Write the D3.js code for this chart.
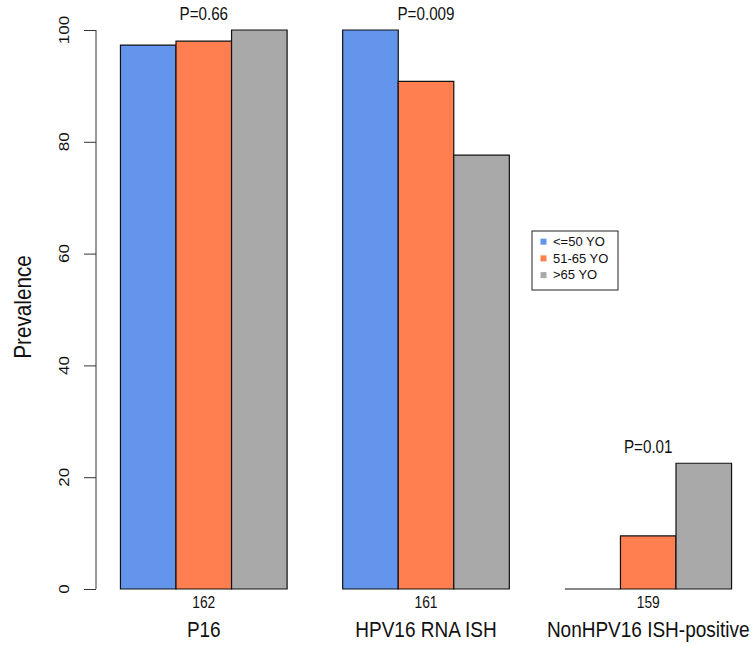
<!DOCTYPE html>
<html><head><meta charset="utf-8">
<script src="https://cdn.jsdelivr.net/npm/d3@7"></script>
<style>body{margin:0;background:#fff}svg{display:block;font-family:"Liberation Sans",Arial,sans-serif}</style>
</head><body><svg id="c" width="753" height="647"></svg>
<script>
const categories = ["P16", "HPV16 RNA ISH", "NonHPV16 ISH-positive"];
const counts = ["162", "161", "159"];
const pValues = ["P=0.66", "P=0.009", "P=0.01"];
const groups = ["<=50 YO", "51-65 YO", ">65 YO"];
const colors = ["#6495ED", "#FF7F50", "#A9A9A9"];
const young = [97.3, 100, 0];
const middle = [98.0, 90.8, 9.5];
const old = [100, 77.6, 22.5];
const yTicks = [0, 20, 40, 60, 80, 100];

const series = [young, middle, old];
const svg = d3.select("#c");
const SY = 1.16; // vertical stretch of the reference's lettering

// R barplot layout: bar units from 1 to 12, xlim extended 4%
const x = d3.scaleLinear().domain([1 - 0.44, 12 + 0.44]).range([96, 756]);
const y = d3.scaleLinear().domain([0, 100]).range([589, 30]);

function label(px, py, txt, size, sy, rot) {
  return svg.append("text")
    .attr("transform", `translate(${px},${py}) scale(1,${sy})` + (rot ? ` rotate(${rot})` : ""))
    .attr("text-anchor", "middle").attr("font-size", size).attr("fill", "#111").text(txt);
}

categories.forEach((cat, gi) => {
  const start = 1 + gi * 4;
  series.forEach((vals, si) => {
    const v = vals[gi];
    const x0 = x(start + si), x1 = x(start + si + 1);
    svg.append("path")
      .attr("d", `M${x0},${y(0)}V${y(v)}H${x1}V${y(0)}Z`)
      .attr("fill", colors[si]).attr("stroke", "#111").attr("stroke-width", 1.2);
  });
  const center = x(start + 1.5);
  const maxV = d3.max(series, s => s[gi]);
  label(center, y(maxV) - 10, pValues[gi], 15.2, SY);
  label(center, 608, counts[gi], 13.8, SY);
  label(center, 637, cat, 19, SY);
});

// Y axis
const axis = svg.append("g").attr("transform", "translate(96,0)")
  .call(d3.axisLeft(y).tickValues(yTicks).tickSize(12).tickFormat(d3.format("d")));
axis.select(".domain").attr("d", `M0,${y(0)}V${y(100)}`).attr("stroke", "#333");
axis.selectAll(".tick line").attr("stroke", "#333");
axis.selectAll(".tick text").remove();
yTicks.forEach(t => label(69, y(t), String(t), 15.5, 1.1, -90));

label(31, 307, "Prevalence", 23, 0.9, -90);

// Legend
const lg = svg.append("g").attr("transform", "translate(532,231)");
lg.append("rect").attr("width", 86).attr("height", 59).attr("fill", "#fff").attr("stroke", "#222");
groups.forEach((g, i) => {
  const cy = 10.7 + i * 16.7;
  lg.append("rect").attr("x", 8.5).attr("y", cy - 3).attr("width", 6).attr("height", 6).attr("fill", colors[i]);
  lg.append("text").attr("transform", `translate(21,${cy}) scale(1,0.92)`).attr("dy", "0.36em")
    .attr("font-size", 13).attr("fill", "#111").text(g);
});
</script></body></html>
